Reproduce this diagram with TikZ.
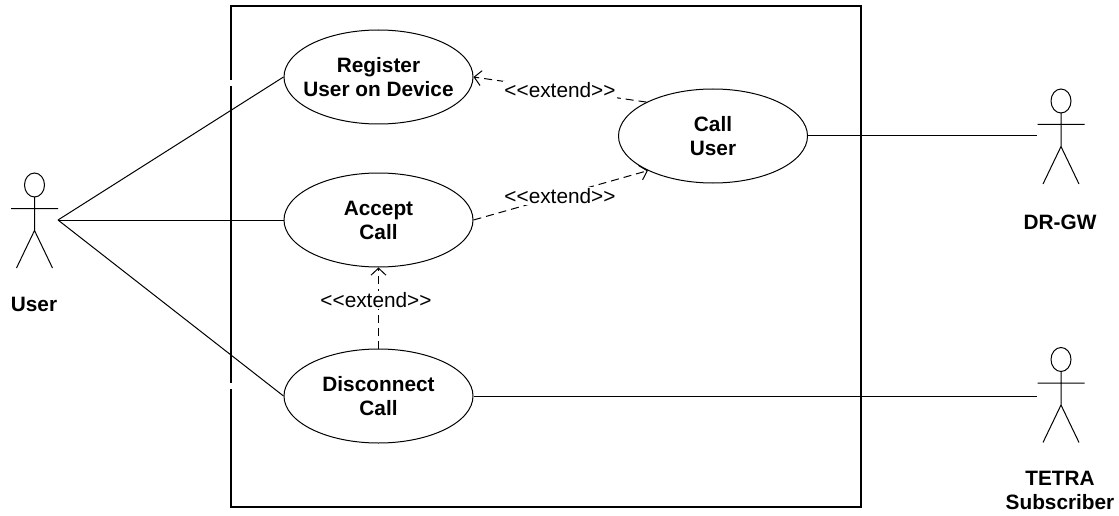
\documentclass[tikz,border=0pt]{standalone}
\usepackage{fontspec}
\setmainfont{Liberation Sans}
\usetikzlibrary{shapes.geometric,arrows.meta}
\tikzset{
  usecase/.style={ellipse,draw=black,line width=1pt,minimum width=189pt,minimum height=94pt,inner sep=-20pt,align=center,font=\fontsize{20.8}{24}\selectfont\bfseries},
  assoc/.style={line width=1pt,draw=black},
  extendline/.style={line width=1pt,draw=black,dash pattern=on 8pt off 5pt,-{Straight Barb[length=7pt,width=15pt,line width=1pt]}},
  extendlabel/.style={fill=white,inner sep=1pt,font=\fontsize{20.8}{23}\selectfont},
  actorlabel/.style={align=center,font=\fontsize{20.8}{24}\selectfont\bfseries},
  actor/.pic={
    \draw[line width=1pt] (0,0) ellipse [x radius=10,y radius=12];
    \draw[line width=1pt] (0,12) -- (0,45.5) (-23.5,23.5) -- (23.5,23.5) (-18,83) -- (0,45.5) -- (18,83);
  }
}
\newcommand{\ext}{<{}<extend>{}>}
\begin{document}
\begin{tikzpicture}[x=1pt,y=-1pt]
\useasboundingbox (0,0) rectangle (1119,516);
\draw[line width=2pt,line join=miter] (230.5,80) -- (230.5,6) -- (861,6) -- (861,507) -- (230.5,507) -- (230.5,389) (230.5,383) -- (230.5,86);
\node[usecase] (reg) at (378.5,77) {Register\\User on Device};
\node[usecase] (acc) at (378.5,220) {Accept\\Call};
\node[usecase] (dis) at (378.5,396) {Disconnect\\Call};
\node[usecase] (call) at (713,136) {Call\\User};
\pic at (34.5,185) {actor};
\pic at (1061,101) {actor};
\pic at (1061,359.5) {actor};
\coordinate (user) at (58,220);
\coordinate (gw) at (1037,136);
\coordinate (tetra) at (1037,396);
\node[actorlabel] (userl) at (34,304) {User};
\node[actorlabel] (gwl) at (1060,222) {DR-GW};
\node[actorlabel] (tetral) at (1060,490) {TETRA\\Subscriber};
\draw[assoc] (user) -- (reg.west);
\draw[assoc] (user) -- (acc.west);
\draw[assoc] (user) -- (dis.west);
\draw[assoc] (call.east) -- (gw);
\draw[assoc] (dis.east) -- (tetra);
\draw[extendline] (call.153) -- (reg.east);
\draw[extendline] (acc.east) -- (call.208);
\draw[extendline] (dis.north) -- (acc.south);
\node[extendlabel] (e1) at (560,90) {\ext};
\node[extendlabel] (e2) at (560,196) {\ext};
\node[extendlabel] (e3) at (376,300) {\ext};
\end{tikzpicture}
\end{document}
